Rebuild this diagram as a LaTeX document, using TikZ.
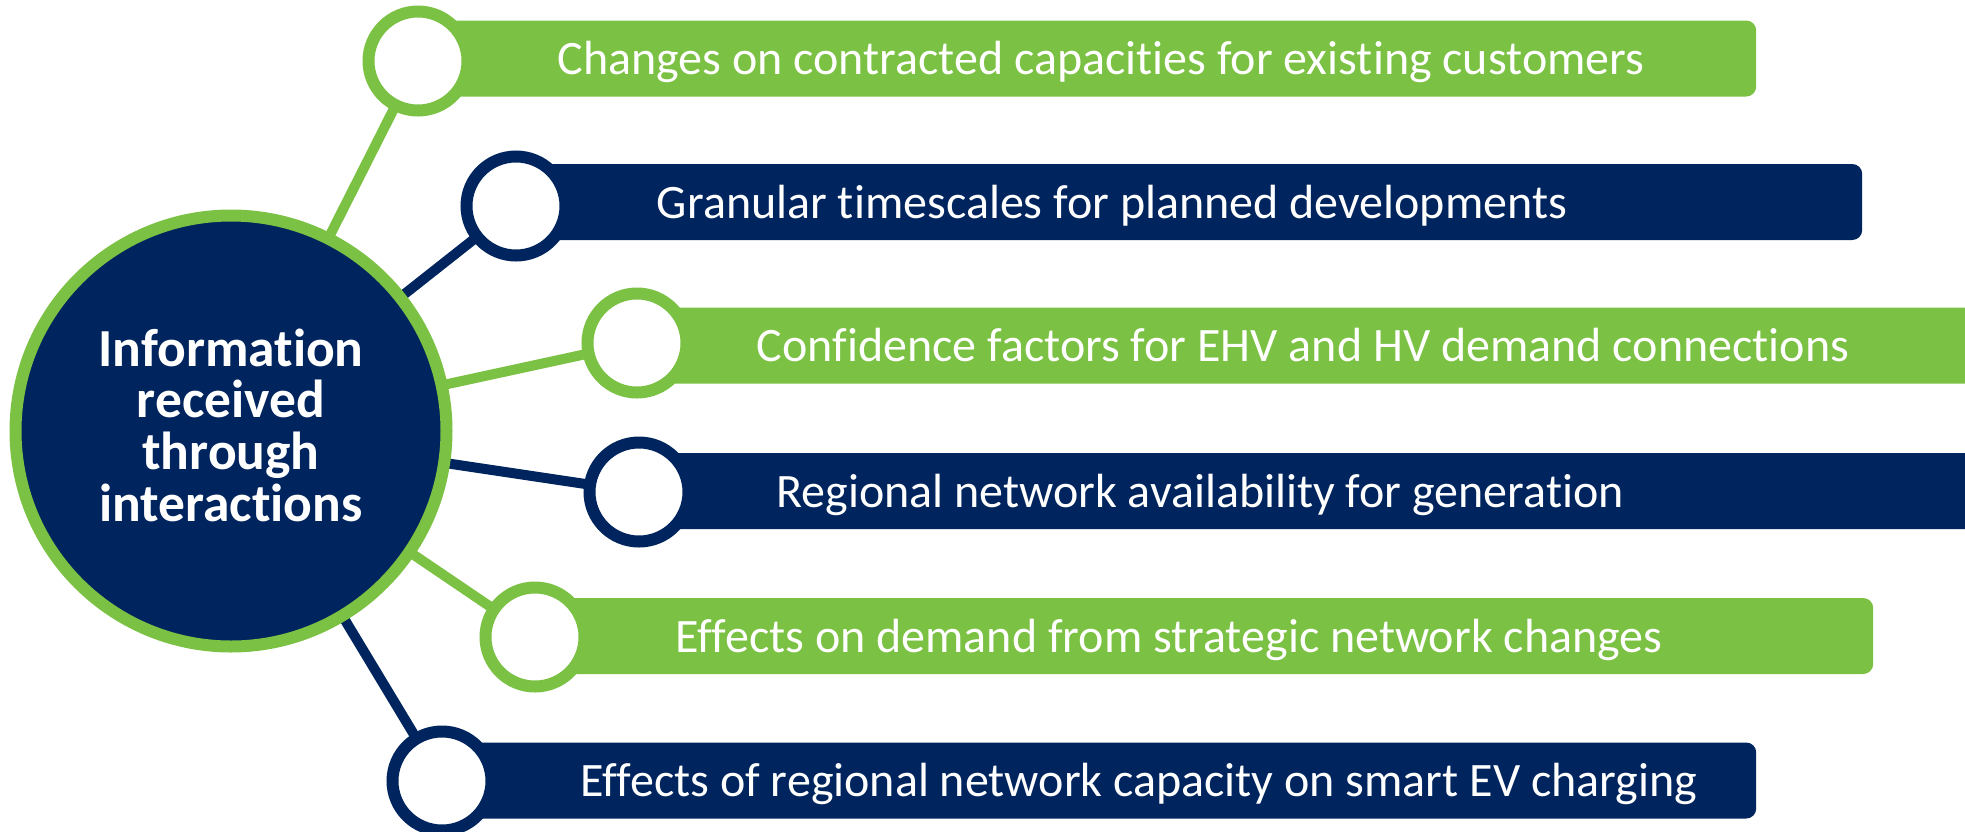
\documentclass[tikz,border=0pt]{standalone}
\usepackage{fontspec}
\setmainfont{Carlito}[Ligatures=NoCommon]
\usepackage{xcolor}
\usetikzlibrary{backgrounds}
\definecolor{leafgreen}{RGB}{123,193,67}
\definecolor{deepnavy}{RGB}{0,36,93}
\tikzset{
  hub/.style={circle, draw=leafgreen, fill=deepnavy, line width=12pt,
    minimum size=431pt, inner sep=0pt},
  hubtext/.style={text=white, align=center, font=\bfseries\fontsize{53.5}{51.7}\selectfont},
  knob/.style={circle, draw=#1, fill=white, line width=12pt,
    minimum size=99pt, inner sep=0pt},
  bar/.style={rectangle, fill=#1, rounded corners=10pt, minimum height=76pt,
    inner sep=0pt, anchor=west},
  bartext/.style={text=white, anchor=base, font=\fontsize{48}{56}\selectfont},
  spoke/.style={draw=#1, line width=10pt}
}

\begin{document}
\begin{tikzpicture}[x=1pt,y=-1pt]
      \useasboundingbox (0,0) rectangle (1965,831);
      \node[bar=leafgreen, minimum width=1338pt] (b1) at (418,58.5) {};
      \node[bar=deepnavy, minimum width=1346pt] (b2) at (516,202) {};
      \node[bar=leafgreen, minimum width=1353pt] (b3) at (637,345.5) {};
      \node[bar=deepnavy, minimum width=1351pt] (b4) at (639,491) {};
      \node[bar=leafgreen, minimum width=1338pt] (b5) at (535,636) {};
      \node[bar=deepnavy, minimum width=1314pt] (b6) at (442,780.5) {};
      \node[bartext] (t1) at (1101,74.5) {Changes on contracted capacities for existing customers};
      \node[bartext] (t2) at (1112,218) {Granular timescales for planned developments};
      \node[bartext] (t3) at (1303,361.5) {Confidence factors for EHV and HV demand connections};
      \node[bartext] (t4) at (1200,507) {Regional network availability for generation};
      \node[bartext] (t5) at (1169,652) {Effects on demand from strategic network changes};
      \node[bartext] (t6) at (1139,796.5) {Effects of regional network capacity on smart EV charging};
      \node[knob=leafgreen] (c1) at (418,61) {};
      \node[knob=deepnavy] (c2) at (516,206) {};
      \node[knob=leafgreen] (c3) at (637,343) {};
      \node[knob=deepnavy] (c4) at (639,492) {};
      \node[knob=leafgreen] (c5) at (535,637) {};
      \node[knob=deepnavy] (c6) at (442,781) {};
      \node[hub] (info) at (231,431) {};
      \node[hubtext] (infolabel) at (231,425) {Information\\received\\through\\interactions};
      \begin{scope}[on background layer]
        \draw[spoke=leafgreen] (info.center) -- (c1.center);
        \draw[spoke=deepnavy] (info.center) -- (c2.center);
        \draw[spoke=leafgreen] (info.center) -- (c3.center);
        \draw[spoke=deepnavy] (info.center) -- (c4.center);
        \draw[spoke=leafgreen] (info.center) -- (c5.center);
        \draw[spoke=deepnavy] (info.center) -- (c6.center);
      \end{scope}
    \end{tikzpicture}
\end{document}
